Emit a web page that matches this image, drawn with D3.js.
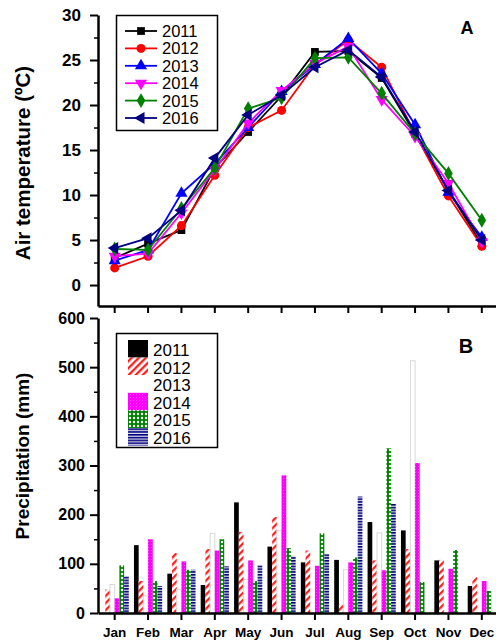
<!DOCTYPE html>
<html><head><meta charset="utf-8">
<script src="https://cdn.jsdelivr.net/npm/d3@7"></script>
<style>body{margin:0;background:#fff}svg{display:block;font-family:"Liberation Sans",Arial,sans-serif}</style>
</head><body><svg id="c" width="496" height="644"></svg>
<script>
const months = ["Jan","Feb","Mar","Apr","May","Jun","Jul","Aug","Sep","Oct","Nov","Dec"];
const years = ["2011","2012","2013","2014","2015","2016"];
// Air temperature (ºC)
const temp2011 = [3.0, 4.6, 6.1, 13.0, 17.0, 21.0, 25.9, 26.0, 23.0, 16.8, 10.5, 4.5];
const temp2012 = [1.9, 3.2, 6.6, 12.2, 17.5, 19.4, 24.5, 27.2, 24.2, 16.8, 9.9, 4.3];
const temp2013 = [2.7, 3.9, 10.2, 13.5, 17.5, 21.5, 24.5, 27.4, 23.5, 17.8, 10.3, 5.3];
const temp2014 = [3.2, 3.5, 8.0, 12.8, 18.0, 21.6, 24.6, 26.5, 20.6, 16.5, 11.3, 4.8];
const temp2015 = [4.0, 3.9, 8.5, 13.0, 19.6, 20.8, 25.2, 25.3, 21.3, 16.8, 12.4, 7.2];
const temp2016 = [4.1, 5.2, 8.3, 14.1, 18.9, 21.1, 24.2, 26.1, 23.1, 17.0, 10.5, 5.0];
// Precipitation (mm)
const prec2011 = [0, 138, 80, 57, 225, 135, 103, 108, 185, 168, 107, 55];
const prec2012 = [48, 65, 122, 130, 165, 195, 127, 18, 107, 130, 108, 73];
const prec2013 = [58, 35, 48, 162, 68, 168, 0, 88, 163, 513, 0, 0];
const prec2014 = [30, 150, 105, 127, 107, 280, 96, 103, 87, 305, 90, 65];
const prec2015 = [97, 65, 88, 150, 65, 132, 162, 113, 335, 63, 128, 45];
const prec2016 = [75, 55, 88, 95, 97, 115, 120, 237, 222, 0, 0, 0];
const tempTicks = [0,5,10,15,20,25,30];
const precTicks = [0,100,200,300,400,500,600];

const temps = [temp2011,temp2012,temp2013,temp2014,temp2015,temp2016];
const precs = [prec2011,prec2012,prec2013,prec2014,prec2015,prec2016];
const lineColors = ["#000000","#ff0000","#0000ff","#ff00ff","#008000","#000080"];
const symbols = [d3.symbolSquare, d3.symbolCircle, d3.symbolTriangle, d3.symbolTriangle, d3.symbolDiamond, d3.symbolTriangle];
const symRot = [0,0,0,180,0,-90];
const symSize = [60,64,64,64,64,64];

const svg = d3.select("#c");
const defs = svg.append("defs");
// patterns
const p12 = defs.append("pattern").attr("id","p2012").attr("patternUnits","userSpaceOnUse")
  .attr("width",5).attr("height",5).attr("patternTransform","rotate(45)");
p12.append("rect").attr("width",5).attr("height",5).attr("fill","#fff");
p12.append("rect").attr("width",2.3).attr("height",5).attr("fill","#ff2020");
const p14 = defs.append("pattern").attr("id","p2014").attr("patternUnits","userSpaceOnUse").attr("width",3).attr("height",3);
p14.append("rect").attr("width",3).attr("height",3).attr("fill","#ff00ff");
p14.append("circle").attr("cx",1.5).attr("cy",1.5).attr("r",0.5).attr("fill","#ff66ff");
const p15 = defs.append("pattern").attr("id","p2015").attr("patternUnits","userSpaceOnUse").attr("width",4).attr("height",4);
p15.append("rect").attr("width",4).attr("height",4).attr("fill","#008000");
p15.append("circle").attr("cx",2).attr("cy",2).attr("r",1.2).attr("fill","#fff");
const p16 = defs.append("pattern").attr("id","p2016").attr("patternUnits","userSpaceOnUse").attr("width",4).attr("height",2.8);
p16.append("rect").attr("width",4).attr("height",2.8).attr("fill","#e0e0f0");
p16.append("rect").attr("width",4).attr("height",1.6).attr("fill","#000080");
const barFills = ["#000000","url(#p2012)","#ffffff","url(#p2014)","url(#p2015)","url(#p2016)"];

const xL = 98, xR = 498.5;
const x = d3.scaleBand().domain(months).range([xL, xR]).paddingInner(0).paddingOuter(0);
const xC = m => x(m) + x.bandwidth()/2;

// ---------- Panel A ----------
const yT = d3.scaleLinear().domain([-2.33, 30]).range([306, 15]);
const gA = svg.append("g");
const axA = gA.append("g").attr("transform",`translate(${xL},0)`)
  .call(d3.axisLeft(yT).tickValues(tempTicks).tickSize(8).tickSizeOuter(0).tickPadding(9));
axA.select(".domain").attr("stroke","#000").attr("stroke-width",2.5);
axA.selectAll(".tick line").attr("stroke-width",2);
axA.selectAll(".tick text").attr("font-size",17).attr("font-weight","bold").attr("fill","#000");
const minorA = gA.append("g").attr("transform",`translate(${xL},0)`)
  .call(d3.axisLeft(yT).tickValues(tempTicks.slice(0,-1).map(v=>v+2.5)).tickSize(4).tickFormat(""));
minorA.select(".domain").remove();
minorA.selectAll(".tick line").attr("stroke-width",1.5);
const xaA = gA.append("g").attr("transform",`translate(0,306)`)
  .call(d3.axisBottom(x).tickSize(7).tickSizeOuter(0).tickFormat(""));
xaA.select(".domain").attr("stroke-width",2.5);
xaA.selectAll(".tick line").attr("stroke-width",2);

gA.append("text").attr("transform","translate(22,163) rotate(-90)").attr("text-anchor","middle")
  .attr("dominant-baseline","central").attr("font-size",20.5).attr("font-weight","bold")
  .text("Air temperature (ºC)");
gA.append("text").attr("x",467).attr("y",34).attr("text-anchor","middle").attr("font-size",18)
  .attr("font-weight","bold").text("A");

const line = d3.line().x((d,i)=>xC(months[i])).y(d=>yT(d));
temps.forEach((arr,k)=>{
  gA.append("path").attr("d",line(arr)).attr("fill","none").attr("stroke",lineColors[k]).attr("stroke-width",1.8);
  gA.selectAll(null).data(arr).join("path")
    .attr("d", d3.symbol().type(symbols[k]).size(symSize[k]))
    .attr("transform",(d,i)=>`translate(${xC(months[i])},${yT(d)}) rotate(${symRot[k]})`)
    .attr("fill",lineColors[k]);
});
const lgA = gA.append("g");
lgA.append("rect").attr("x",116.5).attr("y",15.5).attr("width",101).attr("height",115)
  .attr("fill","#fff").attr("stroke","#000").attr("stroke-width",1.5);
years.forEach((yr,k)=>{
  const cy = 31 + k*17.4;
  lgA.append("line").attr("x1",125).attr("x2",157).attr("y1",cy).attr("y2",cy)
    .attr("stroke",lineColors[k]).attr("stroke-width",1.8);
  lgA.append("path").attr("d",d3.symbol().type(symbols[k]).size(symSize[k])())
    .attr("transform",`translate(141,${cy}) rotate(${symRot[k]})`).attr("fill",lineColors[k]);
  lgA.append("text").attr("x",162).attr("y",cy+6).attr("font-size",16.5).attr("fill","#000").text(yr);
});

// ---------- Panel B ----------
const yP = d3.scaleLinear().domain([0,600]).range([613,318]);
const gB = svg.append("g");
const xIn = d3.scaleBand().domain(years).range([0, 28.2]);
const gx0 = m => xC(m) - 14.1;
precs.forEach((arr,k)=>{
  gB.selectAll(null).data(arr.map((v,i)=>({v,m:months[i]})).filter(d=>d.v>0)).join("rect")
    .attr("x",d=>gx0(d.m)+xIn(years[k]))
    .attr("width",xIn.bandwidth())
    .attr("y",d=>yP(d.v)).attr("height",d=>yP(0)-yP(d.v))
    .attr("fill",barFills[k])
    .attr("stroke",k===2?"#d8d8d8":"none").attr("stroke-width",1);
});
const axB = gB.append("g").attr("transform",`translate(${xL},0)`)
  .call(d3.axisLeft(yP).tickValues(precTicks).tickSize(8).tickSizeOuter(0).tickPadding(5));
axB.select(".domain").attr("stroke-width",2.5);
axB.selectAll(".tick line").attr("stroke-width",2);
axB.selectAll(".tick text").attr("font-size",16).attr("font-weight","bold").attr("fill","#000");
const minorB = gB.append("g").attr("transform",`translate(${xL},0)`)
  .call(d3.axisLeft(yP).tickValues(precTicks.slice(0,-1).map(v=>v+50)).tickSize(4).tickFormat(""));
minorB.select(".domain").remove();
minorB.selectAll(".tick line").attr("stroke-width",1.5);
const xaB = gB.append("g").attr("transform",`translate(0,613)`)
  .call(d3.axisBottom(x).tickSize(7).tickSizeOuter(0).tickPadding(7));
xaB.select(".domain").attr("stroke-width",2.5);
xaB.selectAll(".tick line").attr("stroke-width",2);
xaB.selectAll(".tick text").attr("font-size",13.5).attr("font-weight","bold").attr("fill","#000");

gB.append("text").attr("transform","translate(22,456) rotate(-90)").attr("text-anchor","middle")
  .attr("dominant-baseline","central").attr("font-size",19).attr("font-weight","bold")
  .text("Precipitation (mm)");
gB.append("text").attr("x",466).attr("y",353).attr("text-anchor","middle").attr("font-size",20)
  .attr("font-weight","bold").text("B");

const lgB = gB.append("g");
lgB.append("rect").attr("x",116.5).attr("y",333.5).attr("width",101).attr("height",114)
  .attr("fill","#fff").attr("stroke","#000").attr("stroke-width",1.5);
years.forEach((yr,k)=>{
  const top = 340 + k*17.6;
  lgB.append("rect").attr("x",128).attr("y",top).attr("width",20).attr("height",17.6).attr("fill",barFills[k]);
  lgB.append("text").attr("x",153).attr("y",top+16).attr("font-size",17).attr("fill","#000").text(yr);
});
</script></body></html>
